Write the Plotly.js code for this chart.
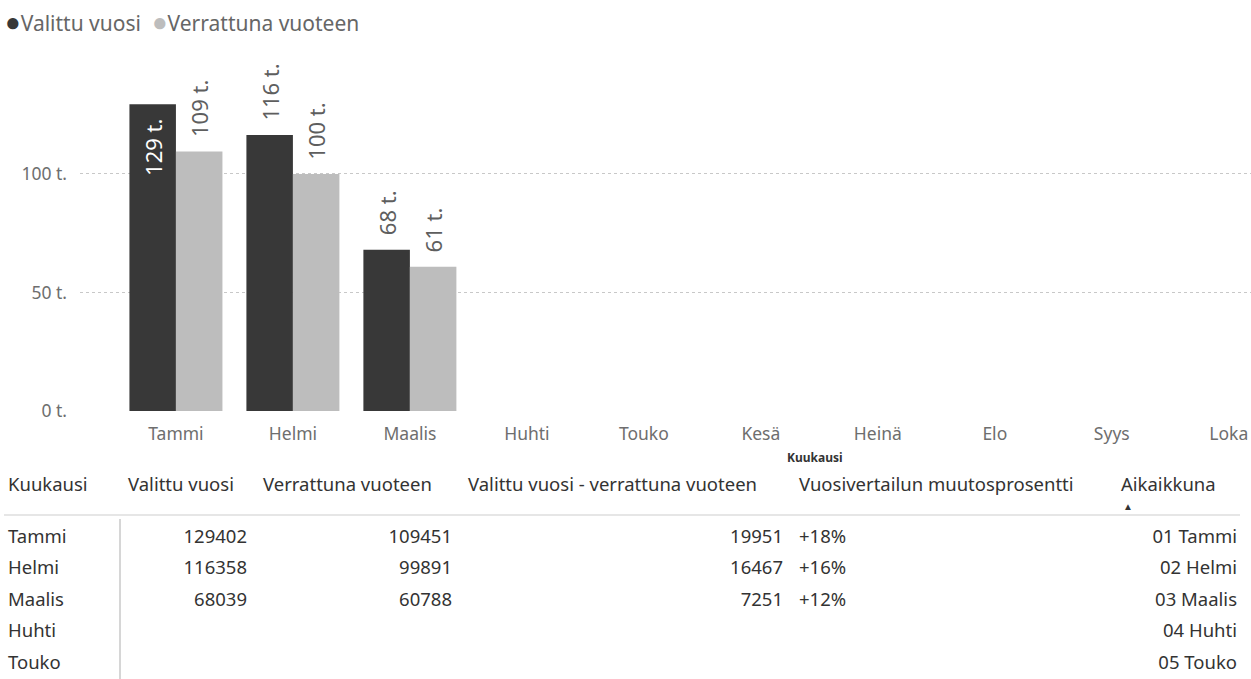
<!DOCTYPE html>
<html>
<head>
<meta charset="utf-8">
<script src="https://cdn.plot.ly/plotly-3.0.1.min.js"></script>
<style>html,body{margin:0;padding:0;background:#fff;}#chart{width:1251px;height:679px;}</style>
</head>
<body>
<div id="chart"></div>
<script>
// ---- data ----
const months = ['Tammi','Helmi','Maalis','Huhti','Touko','Kesä','Heinä','Elo','Syys','Loka','Marras','Joulu'];
const selectedYear = [129402, 116358, 68039, null, null, null, null, null, null, null, null, null];
const compareYear  = [109451,  99891, 60788, null, null, null, null, null, null, null, null, null];
const seriesNames = ['Valittu vuosi', 'Verrattuna vuoteen'];
const yTickVals = [0, 50000, 100000];
const yTickLabels = ['0 t.', '50 t.', '100 t.'];
const tableHeaders = ['Kuukausi', 'Valittu vuosi', 'Verrattuna vuoteen', 'Valittu vuosi - verrattuna vuoteen', 'Vuosivertailun muutosprosentti', 'Aikaikkuna'];
const tableVisibleRows = 5;   // rows of the table that are visible in the view
const xTitle = 'Kuukausi';
const darkLabelPos = ['inside','outside','outside','outside','outside','outside','outside','outside','outside','outside','outside','outside'];

// ---- styles ----
const FONT = 'Noto Sans, Open Sans, sans-serif';
const DARK = '#383838', LIGHT = '#bdbdbd';
const W = 1251, H = 679;
const px = v => v / W;            // horizontal px -> paper
const py = v => (H - v) / H;      // vertical px (from top) -> paper

const lbl = v => v == null ? '' : '\u00a0\u00a0' + Math.round(v / 1000) + ' t.\u00a0\u00a0';

const traces = [
  {
    type: 'bar', name: seriesNames[0], x: months, y: selectedYear,
    marker: {color: DARK}, text: selectedYear.map(lbl), textposition: darkLabelPos,
    textangle: -90, insidetextanchor: 'end', constraintext: 'none', cliponaxis: false,
    insidetextfont: {family: FONT, size: 22, color: '#ffffff'},
    outsidetextfont: {family: FONT, size: 22, color: '#5e5e5e'},
    showlegend: false, hoverinfo: 'skip'
  },
  {
    type: 'bar', name: seriesNames[1], x: months, y: compareYear,
    marker: {color: LIGHT}, text: compareYear.map(lbl), textposition: 'outside',
    textangle: -90, constraintext: 'none', cliponaxis: false,
    outsidetextfont: {family: FONT, size: 22, color: '#5e5e5e'},
    showlegend: false, hoverinfo: 'skip'
  }
];

// table columns built from the data arrays
const tMonths = months.slice(0, tableVisibleRows);
const colSel = tMonths.map((m, i) => selectedYear[i] == null ? '' : String(selectedYear[i]));
const colCmp = tMonths.map((m, i) => compareYear[i] == null ? '' : String(compareYear[i]));
const colDiff = tMonths.map((m, i) => (selectedYear[i] == null || compareYear[i] == null) ? '' : String(selectedYear[i] - compareYear[i]));
const colPct = tMonths.map((m, i) => (selectedYear[i] == null || compareYear[i] == null) ? '' : '+' + Math.round((selectedYear[i] - compareYear[i]) / compareYear[i] * 100) + '%');
const colPeriod = tMonths.map((m, i) => String(i + 1).padStart(2, '0') + ' ' + m);

traces.push({
  type: 'table',
  domain: {x: [0, px(1245)], y: [0, py(469)]},
  columnwidth: [120, 135, 205, 331, 322, 132],
  header: {
    values: tableHeaders,
    align: 'left',
    height: 52,
    fill: {color: '#ffffff'},
    line: {color: 'rgba(0,0,0,0)', width: 0},
    font: {family: FONT, size: 18.5, color: '#333333'}
  },
  cells: {
    values: [tMonths, colSel, colCmp, colDiff, colPct, colPeriod],
    align: ['left','right','right','right','left','right'],
    height: 31.5,
    fill: {color: '#ffffff'},
    line: {color: 'rgba(0,0,0,0)', width: 0},
    font: {family: FONT, size: 18.5, color: '#333333'}
  }
});

const layout = {
  width: W, height: H,
  margin: {l: 0, r: 0, t: 0, b: 0},
  paper_bgcolor: '#ffffff', plot_bgcolor: '#ffffff',
  font: {family: FONT, color: '#666666'},
  barmode: 'group', bargap: 0.205, bargroupgap: 0,
  showlegend: false,
  xaxis: {
    domain: [px(80), 1], type: 'category', categoryorder: 'array', categoryarray: months,
    range: [-0.82, 9.19], showgrid: false, zeroline: false, showline: false, ticks: '',
    tickfont: {family: FONT, size: 17.5, color: '#6e6e6e'}, ticklabelstandoff: 10, fixedrange: true
  },
  yaxis: {
    domain: [py(411), py(79)], range: [0, 140000],
    tickvals: yTickVals, ticktext: yTickLabels,
    showgrid: true, gridcolor: '#c8c8c8', griddash: 'dot', gridwidth: 1,
    zeroline: false, showline: false, ticks: '',
    tickfont: {family: FONT, size: 17.5, color: '#6e6e6e'}, ticklabelstandoff: 12, fixedrange: true
  },
  annotations: [
    {xref: 'paper', yref: 'paper', x: px(3), y: py(21), xanchor: 'left', yanchor: 'middle', showarrow: false,
     text: '<span style="color:' + DARK + ';font-size:26px">●</span>' + seriesNames[0] + '  <span style="color:' + LIGHT + ';font-size:26px">●</span>' + seriesNames[1],
     font: {family: FONT, size: 21, color: '#666666'}},
    {xref: 'paper', yref: 'paper', x: px(815), y: py(457), xanchor: 'center', yanchor: 'middle', showarrow: false,
     text: '<b>' + xTitle + '</b>', font: {family: FONT, size: 12, color: '#333333'}},
    {xref: 'paper', yref: 'paper', x: px(1128), y: py(506), xanchor: 'center', yanchor: 'middle', showarrow: false,
     text: '▲', font: {family: FONT, size: 10, color: '#333333'}}
  ],
  shapes: [
    {type: 'line', xref: 'paper', yref: 'paper', x0: px(4), x1: px(1240), y0: py(515), y1: py(515),
     line: {color: '#e6e6e6', width: 2}},
    {type: 'line', xref: 'paper', yref: 'paper', x0: px(120), x1: px(120), y0: py(519), y1: 0,
     line: {color: '#d6d6d6', width: 2}}
  ]
};

Plotly.newPlot('chart', traces, layout, {displayModeBar: false, staticPlot: true});
</script>
</body>
</html>
